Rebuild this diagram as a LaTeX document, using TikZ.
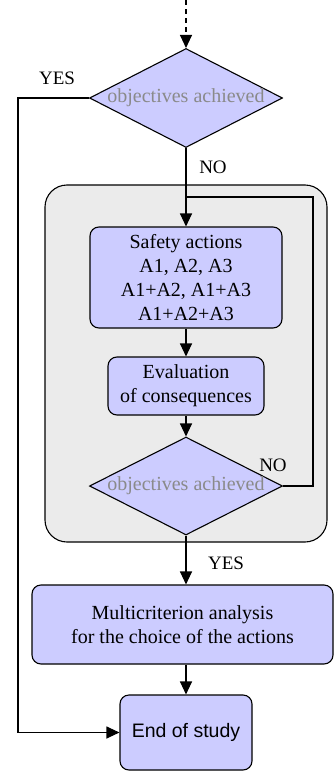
\documentclass[tikz,border=0pt]{standalone}
\usepackage{fontspec}
\setmainfont{Liberation Serif}
\newfontfamily\endfont{Liberation Sans}
\usetikzlibrary{arrows.meta,shapes.geometric}
\definecolor{boxblue}{HTML}{CCCCFF}
\definecolor{panelgray}{HTML}{EBEBEB}
\definecolor{decgray}{HTML}{8A8A8A}
\begin{document}
\begin{tikzpicture}[x=1pt,y=-1pt,
  line width=1.1pt,
  arr/.style={-{Triangle[length=13pt,width=12pt]}},
  procbox/.style={draw=black, fill=boxblue, rounded corners=9pt, rectangle,
    inner sep=0pt, align=center, font=\fontsize{20}{24}\selectfont},
  decision/.style={draw=black, fill=boxblue, diamond, inner sep=0pt,
    minimum width=193pt, minimum height=99pt, text=decgray,
    font=\fontsize{20}{24}\selectfont},
  lbl/.style={font=\fontsize{19}{22}\selectfont, inner sep=0pt}]
\useasboundingbox (0,0) rectangle (334,771);

% background panel around the iteration loop
\node[draw=black, fill=panelgray, rounded corners=22pt, rectangle, inner sep=0pt,
  minimum width=282pt, minimum height=357pt] (panel) at (186,363.5) {};

\coordinate (start) at (186,0);
\node[decision] (dec1) at (186,98) {\makebox[0pt]{objectives achieved}};
\node[procbox, minimum width=192pt, minimum height=101pt] (safety) at (186,277.5)
  {Safety actions\\A1, A2, A3\\A1+A2, A1+A3\\A1+A2+A3};
\node[procbox, minimum width=156pt, minimum height=58pt] (eval) at (186,386)
  {Evaluation\\of consequences};
\node[decision, minimum height=98pt] (dec2) at (186,486) {\makebox[0pt]{objectives achieved}};
\node[procbox, minimum width=301pt, minimum height=79pt] (multi) at (182.5,624.5)
  {Multicriterion analysis\\for the choice of the actions};
\node[procbox, minimum width=132pt, minimum height=75pt, font=\endfont\fontsize{19.5}{23}\selectfont]
  (end) at (186,732.5) {End of study};

\coordinate (loopin) at (186,197);
\coordinate (loopr) at (313,197);
\coordinate (leftrail) at (18,98);

% connectors
\draw[arr, dash pattern=on 5pt off 4pt] (start) -- (dec1.north);
\draw[arr] (dec1.south) -- (safety.north);
\draw[arr] (safety.south) -- (eval.north);
\draw[arr] (eval.south) -- (dec2.north);
\draw (dec2.east) -| (loopr) -- (loopin);
\draw[arr] (dec2.south) -- (dec2.south |- multi.north);
\draw[arr] (end.north |- multi.south) -- (end.north);
\draw[arr] (dec1.west) -- (leftrail) |- (end.west);

% branch labels
\node[lbl] (yes1) at (57,78) {YES};
\node[lbl] (no1) at (213,167) {NO};
\node[lbl] (no2) at (273,465) {NO};
\node[lbl] (yes2) at (226,563) {YES};
\end{tikzpicture}
\end{document}
